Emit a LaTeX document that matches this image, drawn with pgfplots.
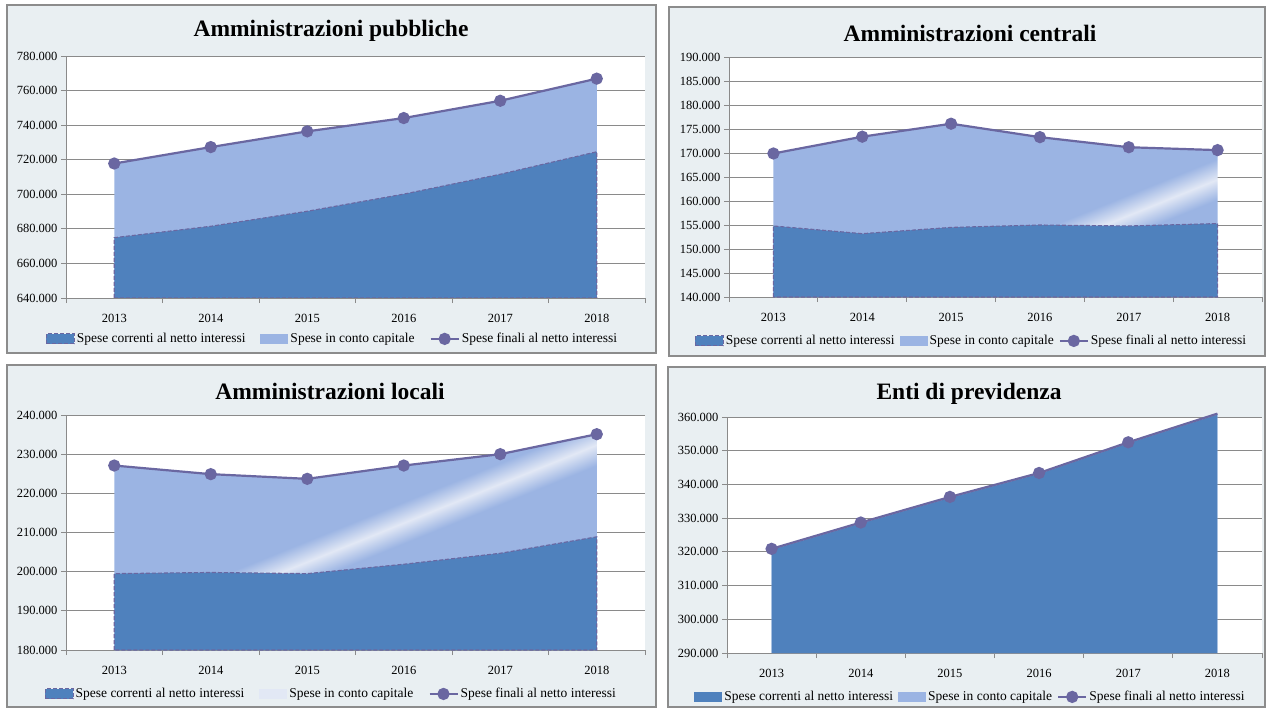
\documentclass[border=0pt]{standalone}
\usepackage{fontspec}
\setmainfont{Liberation Serif}
\usepackage{pgfplots}
\pgfplotsset{compat=1.18}
\definecolor{dark}{HTML}{4F81BD}
\definecolor{light}{HTML}{9BB4E3}
\definecolor{pale}{HTML}{E2E8F5}
\definecolor{linec}{HTML}{6A67A1}
\definecolor{bgc}{HTML}{E9EFF2}
\definecolor{framec}{HTML}{8C8C8C}
\definecolor{gridc}{HTML}{8A8A8A}
\pgfdeclarehorizontalshading{bandC}{100bp}{color(0bp)=(light); color(46.7bp)=(light); color(50bp)=(pale); color(53.3bp)=(light); color(100bp)=(light)}
\pgfdeclarehorizontalshading{bandB}{100bp}{color(0bp)=(light); color(57bp)=(light); color(60.8bp)=(pale); color(64.6bp)=(light); color(100bp)=(light)}
\pgfplotsset{
 panel/.style={
  scale only axis, anchor=south west,
  xmin=-0.5, xmax=5.5,
  axis lines*=left,
  axis line style={color=gridc, line width=0.8pt},
  xtick={-0.5,0.5,1.5,2.5,3.5,4.5,5.5}, xticklabels={},
  extra x ticks={0,1,2,3,4,5},
  extra x tick labels={2013,2014,2015,2016,2017,2018},
  extra x tick style={major tick length=0pt, xticklabel style={yshift=-13pt}},
  ymajorgrids, grid style={gridc, line width=0.8pt},
  tick style={gridc, line width=0.8pt},
  major tick length=5pt,
  tick align=outside,
  scaled y ticks=false,
  yticklabel style={/pgf/number format/.cd, fixed, precision=0, 1000 sep={.}, assume math mode=true},
  ticklabel style={font=\fontsize{12.5}{12.5}\selectfont},
  axis background/.style={fill=white},
  legend columns=3,
  legend style={draw=none, fill=none, font=\fontsize{13.5}{13.5}\selectfont, anchor=center,
    /tikz/every even column/.append style={column sep=13pt}},
  legend cell align=left,
 },
 narrowleg/.style={legend style={/tikz/every even column/.append style={column sep=3pt}}},
 sarea/.style={legend image code/.code={\filldraw[##1] (0pt,-5pt) rectangle (28pt,5pt);}},
 sfill/.style={legend image code/.code={\fill[##1, draw=none] (0pt,-5pt) rectangle (28pt,5pt);}},
 sline/.style={legend image code/.code={\draw[mark repeat=2, mark phase=2, ##1] plot coordinates {(0pt,0pt) (14pt,0pt) (28pt,0pt)};}},
 fline/.style={linec, line width=2.2pt, mark=*, mark size=5pt, mark options={fill=linec, draw=linec, solid}},
 dashb/.style={draw=linec, line width=1.1pt, dash pattern=on 4pt off 2pt},
}
\begin{document}
\begin{tikzpicture}
\useasboundingbox (0pt,0pt) rectangle (1268pt,-708pt);
\fill[white] (0pt,0pt) rectangle (1268pt,-708pt);
\filldraw[fill=bgc, draw=framec, line width=1.2pt] (7pt,-5pt) rectangle (656pt,-353pt);
\filldraw[fill=bgc, draw=framec, line width=1.2pt] (669pt,-7pt) rectangle (1265pt,-356pt);
\filldraw[fill=bgc, draw=framec, line width=1.2pt] (7pt,-365pt) rectangle (656pt,-707pt);
\filldraw[fill=bgc, draw=framec, line width=1.2pt] (668pt,-367pt) rectangle (1265pt,-707pt);
\node[font=\fontsize{23.5}{26}\selectfont\bfseries] at (331pt,-31pt) {Amministrazioni pubbliche};
\node[font=\fontsize{23.5}{26}\selectfont\bfseries] at (970pt,-33pt) {Amministrazioni centrali};
\node[font=\fontsize{23.5}{26}\selectfont\bfseries] at (330pt,-391pt) {Amministrazioni locali};
\node[font=\fontsize{23.5}{26}\selectfont\bfseries] at (969pt,-394pt) {Enti di previdenza};

% Panel 1
\begin{axis}[panel, at={(66pt,-298pt)}, width=579pt, height=242pt,
  ymin=640000, ymax=780000, ytick distance=20000,
  legend style={at={(0.460,-0.169)}}]
\addplot[fill=light, draw=none, forget plot] coordinates {(0,640000) (0,717800) (1,727300) (2,736400) (3,744100) (4,754100) (5,766900) (5,640000)} -- cycle;
\addplot[fill=dark, dashb, forget plot] coordinates {(0,640000) (0,674900) (1,681500) (2,690200) (3,700100) (4,711600) (5,724600) (5,640000)} -- cycle;
\addplot[fline, forget plot] coordinates {(0,717800) (1,727300) (2,736400) (3,744100) (4,754100) (5,766900)};
\addlegendimage{sarea, fill=dark, dashb}
\addlegendentry{Spese correnti al netto interessi}
\addlegendimage{sfill, fill=light}
\addlegendentry{Spese in conto capitale}
\addlegendimage{sline, fline}
\addlegendentry{Spese finali al netto interessi}
\end{axis}

% Panel 2
\begin{axis}[panel, narrowleg, at={(729pt,-297pt)}, width=533pt, height=240pt,
  ymin=140000, ymax=190000, ytick distance=5000,
  legend style={at={(0.455,-0.183)}}]
\addplot[shade, shading=bandB, shading angle=-68, draw=none, forget plot] coordinates {(0,140000) (0,169900) (1,173400) (2,176100) (3,173300) (4,171200) (5,170600) (5,140000)} -- cycle;
\addplot[fill=dark, dashb, forget plot] coordinates {(0,140000) (0,154800) (1,153200) (2,154500) (3,155000) (4,154800) (5,155300) (5,140000)} -- cycle;
\addplot[fline, forget plot] coordinates {(0,169900) (1,173400) (2,176100) (3,173300) (4,171200) (5,170600)};
\addlegendimage{sarea, fill=dark, dashb}
\addlegendentry{Spese correnti al netto interessi}
\addlegendimage{sfill, fill=light}
\addlegendentry{Spese in conto capitale}
\addlegendimage{sline, fline}
\addlegendentry{Spese finali al netto interessi}
\end{axis}

% Panel 3
\begin{axis}[panel, at={(66pt,-650pt)}, width=579pt, height=235pt,
  ymin=180000, ymax=240000, ytick distance=10000,
  legend style={at={(0.458,-0.187)}}]
\addplot[shade, shading=bandC, shading angle=-68, draw=none, forget plot] coordinates {(0,180000) (0,227100) (1,224900) (2,223700) (3,227100) (4,230000) (5,235100) (5,180000)} -- cycle;
\addplot[fill=dark, dashb, forget plot] coordinates {(0,180000) (0,199500) (1,199800) (2,199500) (3,201900) (4,204700) (5,208900) (5,180000)} -- cycle;
\addplot[fline, forget plot] coordinates {(0,227100) (1,224900) (2,223700) (3,227100) (4,230000) (5,235100)};
\addlegendimage{sarea, fill=dark, dashb}
\addlegendentry{Spese correnti al netto interessi}
\addlegendimage{sfill, fill=pale}
\addlegendentry{Spese in conto capitale}
\addlegendimage{sline, fline}
\addlegendentry{Spese finali al netto interessi}
\end{axis}

% Panel 4
\begin{axis}[panel, narrowleg, at={(727pt,-653pt)}, width=535pt, height=236pt,
  ymin=290000, ymax=360000, ytick distance=10000, clip=false,
  legend style={at={(0.455,-0.186)}}]
\addplot[fill=light, draw=none, forget plot] coordinates {(0,290000) (0,320900) (1,328700) (2,336300) (3,343400) (4,352500) (5,361000) (5,290000)} -- cycle;
\addplot[fill=dark, draw=none, forget plot] coordinates {(0,290000) (0,320600) (1,328400) (2,336000) (3,343100) (4,352200) (5,360700) (5,290000)} -- cycle;
\addplot[fline, mark indices={1,2,3,4,5}, forget plot] coordinates {(0,320900) (1,328700) (2,336300) (3,343400) (4,352500) (5,361000)};
\addlegendimage{sfill, fill=dark}
\addlegendentry{Spese correnti al netto interessi}
\addlegendimage{sfill, fill=light}
\addlegendentry{Spese in conto capitale}
\addlegendimage{sline, fline}
\addlegendentry{Spese finali al netto interessi}
\end{axis}
\end{tikzpicture}
\end{document}
